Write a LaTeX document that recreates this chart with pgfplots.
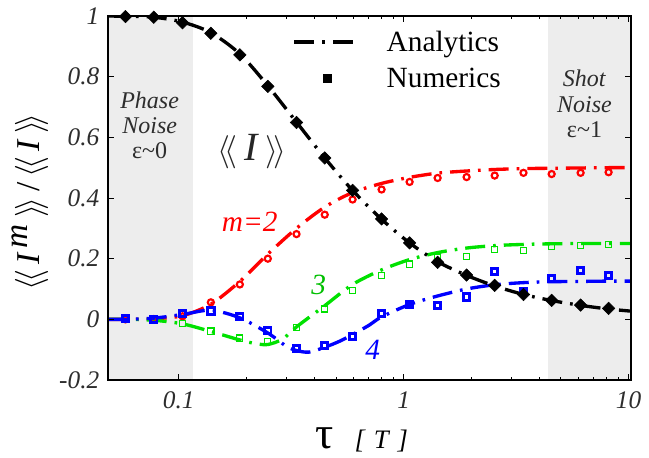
\documentclass[border=0pt]{standalone}
\usepackage{pgfplots}
\pgfplotsset{compat=1.18}
\usepackage{fontspec}
\setmainfont{Liberation Serif}
\definecolor{myred}{RGB}{255,0,0}
\definecolor{mygreen}{RGB}{0,225,0}
\definecolor{myblue}{RGB}{0,0,255}
\definecolor{shade}{RGB}{237,237,237}
\definecolor{txtgray}{RGB}{45,45,45}
\tikzset{dashdot/.style={line width=2.5pt, dash pattern=on 15pt off 6pt on 2pt off 6pt}}
\begin{document}
\begin{tikzpicture}
\begin{axis}[
  scale only axis, width=392.25pt, height=273pt,
  xmode=log, xmin=0.0485, xmax=10.25, ymin=-0.2, ymax=1,
  xtick={0.1,1,10}, xticklabels={0.1,1,10},
  ytick={-0.2,0,0.2,0.4,0.6,0.8,1}, yticklabels={-0.2,0,0.2,0.4,0.6,0.8,1},
  axis on top,
  axis line style={line width=0.9pt},
  tick style={black, line width=0.6pt},
  major tick length=4.5pt, minor tick length=2.5pt,
  tick label style={font=\fontsize{19}{19}\selectfont\itshape, text=txtgray},
  /pgf/number format/assume math mode=true,
  xticklabel style={yshift=-5pt},
  yticklabel style={xshift=-3pt},
  ylabel={$\langle\!\langle$\,\textit{I}$^{\,\textit{m}}$\,$\rangle\!\rangle$\,/\,$\langle\!\langle$\,\textit{I}\,$\rangle\!\rangle$},
  ylabel style={font=\fontsize{25}{25}\selectfont, at={(axis description cs:-0.149,0.49)}, anchor=center, rotate=0},
  xlabel={{\fontsize{34}{34}\selectfont τ}\hspace{16pt}{\fontsize{20}{20}\selectfont\itshape [\,\,T\,\,]}},
  xlabel style={at={(axis description cs:0.485,0)}, anchor=base, yshift=-51pt},
  legend style={at={(axis description cs:0.345,0.975)}, anchor=north west, draw=none, fill=none,
    font=\fontsize{22}{25}\selectfont, legend cell align=left, row sep=7pt,
    /tikz/every odd column/.append style={column sep=17pt}},
]
\addlegendimage{legend image code/.code={\draw[black, dashdot] (0pt,0pt) -- (49pt,0pt);}}
\addlegendentry{Analytics}
\addlegendimage{legend image code/.code={\fill[black] (21.5pt,-3.2pt) rectangle (27.5pt,2.8pt);}}
\addlegendentry{Numerics}

% shaded regions
\addplot[fill=shade, draw=none, forget plot] coordinates {(0.0485,-0.2) (0.0485,1) (0.1154,1) (0.1154,-0.2)} -- cycle;
\addplot[fill=shade, draw=none, forget plot] coordinates {(4.38,-0.2) (4.38,1) (10.25,1) (10.25,-0.2)} -- cycle;

% analytics
\addplot[myred, dashdot, smooth, forget plot] coordinates {
(0.0485,0) (0.058,0) (0.0775,0.002) (0.104,0.012) (0.139,0.05) (0.187,0.125) (0.249,0.215) (0.334,0.3) (0.446,0.37) (0.593,0.418) (0.798,0.448) (1.063,0.468) (1.416,0.482) (1.905,0.489) (2.54,0.494) (3.41,0.497) (4.55,0.498) (6.12,0.499) (8.15,0.5) (10.25,0.5)};
\addplot[mygreen, dashdot, smooth, forget plot] coordinates {
(0.0485,0) (0.058,0) (0.0775,-0.003) (0.104,-0.015) (0.139,-0.04) (0.187,-0.068) (0.22,-0.08) (0.249,-0.083) (0.29,-0.065) (0.334,-0.025) (0.446,0.045) (0.593,0.115) (0.798,0.163) (1.063,0.197) (1.416,0.22) (1.905,0.235) (2.54,0.243) (3.41,0.247) (4.55,0.249) (6.12,0.25) (8.15,0.25) (10.25,0.25)};
\addplot[myblue, dashdot, smooth, forget plot] coordinates {
(0.0485,0) (0.058,0) (0.0775,0.004) (0.104,0.016) (0.139,0.03) (0.187,0.005) (0.249,-0.045) (0.3,-0.088) (0.334,-0.103) (0.38,-0.108) (0.446,-0.092) (0.52,-0.072) (0.593,-0.05) (0.7,-0.02) (0.798,0.008) (1.063,0.049) (1.416,0.077) (1.905,0.1) (2.54,0.114) (3.41,0.121) (4.55,0.124) (6.12,0.125) (8.15,0.126) (10.25,0.126)};

% numerics
\addplot[only marks, mark=o, mark size=2.3pt, myred, line width=1.6pt, mark options={fill=white}, forget plot] coordinates {
(0.058,0) (0.0775,0.001) (0.104,0.01) (0.139,0.056) (0.187,0.115) (0.249,0.2) (0.334,0.281) (0.446,0.345) (0.593,0.395) (0.798,0.428) (1.063,0.453) (1.416,0.466) (1.905,0.469) (2.54,0.474) (3.41,0.483) (4.55,0.479) (6.12,0.483) (8.15,0.485)};
\addplot[only marks, mark=square, mark size=2.3pt, mygreen, line width=0.9pt, mark options={fill=white}, forget plot] coordinates {
(0.058,0) (0.0775,0) (0.104,-0.013) (0.139,-0.039) (0.187,-0.062) (0.249,-0.072) (0.334,-0.028) (0.446,0.034) (0.593,0.095) (0.798,0.145) (1.063,0.182) (1.416,0.205) (1.905,0.208) (2.54,0.23) (3.41,0.228) (4.55,0.241) (6.12,0.243) (8.15,0.247)};
\addplot[only marks, mark=square, mark size=2.4pt, myblue, line width=2.2pt, mark options={fill=white}, forget plot] coordinates {
(0.058,0.003) (0.0775,0) (0.104,0.02) (0.139,0.027) (0.187,0.009) (0.249,-0.036) (0.334,-0.096) (0.446,-0.086) (0.593,-0.057) (0.798,0.019) (1.063,0.049) (1.416,0.046) (1.905,0.074) (2.54,0.157) (3.41,0.091) (4.55,0.134) (6.12,0.161) (8.15,0.144)};

% black
\addplot[black, dashdot, smooth, forget plot] coordinates {
(0.0485,1.0) (0.058,0.999) (0.0775,0.996) (0.104,0.98) (0.139,0.945) (0.187,0.875) (0.249,0.77) (0.334,0.65) (0.446,0.532) (0.593,0.425) (0.798,0.33) (1.063,0.252) (1.416,0.19) (1.905,0.145) (2.54,0.11) (3.41,0.082) (4.55,0.062) (6.12,0.046) (8.15,0.034) (10.25,0.027)};
\addplot[only marks, mark=square*, mark size=3.3pt, black, mark options={rotate=45}, forget plot] coordinates {
(0.058,0.998) (0.0775,0.996) (0.104,0.978) (0.139,0.943) (0.187,0.872) (0.249,0.768) (0.334,0.649) (0.446,0.532) (0.593,0.425) (0.798,0.331) (1.063,0.252) (1.416,0.188) (1.905,0.146) (2.54,0.112) (3.41,0.082) (4.55,0.0625) (6.12,0.047) (8.15,0.036)};

% annotations
\node[font=\fontsize{18}{19}\selectfont, text=txtgray, align=center] at (axis cs:0.0743,0.64) {\textit{Phase}\\\textit{Noise}\\ε\textasciitilde 0};
\node[font=\fontsize{18}{19}\selectfont, text=txtgray, align=center] at (axis cs:6.37,0.71) {\textit{Shot}\\\textit{Noise}\\ε\textasciitilde 1};
\node[font=\fontsize{30}{30}\selectfont, text=black!85] at (axis cs:0.211,0.552) {$\langle\!\langle$\,\textit{I}\,$\rangle\!\rangle$};
\node[font=\fontsize{22}{22}\selectfont\itshape, text=myred] at (axis cs:0.207,0.322) {m=2};
\node[font=\fontsize{22}{22}\selectfont\itshape, text=mygreen!85!black] at (axis cs:0.419,0.112) {3};
\node[font=\fontsize{22}{22}\selectfont\itshape, text=myblue] at (axis cs:0.728,-0.099) {4};
\end{axis}
\pgfresetboundingbox
\path[use as bounding box] (-81pt,-57.75pt) rectangle (405.75pt,285pt);
\end{tikzpicture}
\end{document}
